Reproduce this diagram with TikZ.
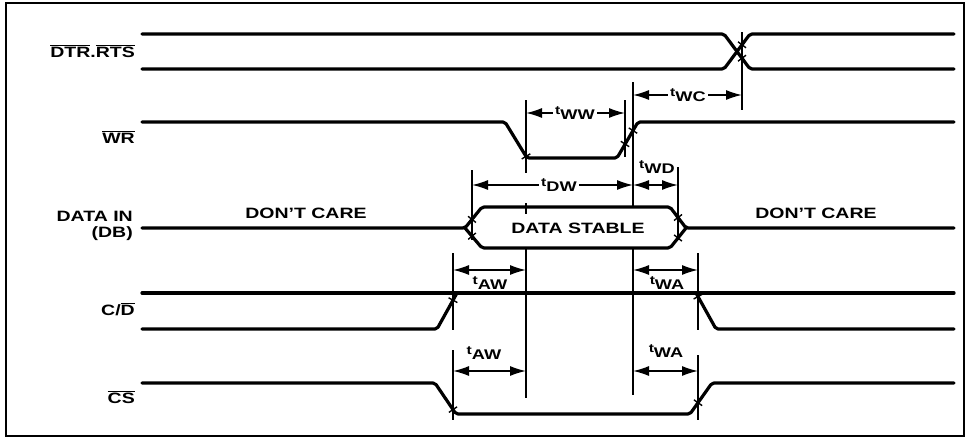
\documentclass[tikz,border=0pt]{standalone}
\usepackage{fontspec}
\setmainfont[FakeStretch=1.3]{Liberation Sans}
\usetikzlibrary{arrows.meta}
\newcommand\ovl[1]{$\overline{\mbox{#1}}$}
\newcommand\tlab[1]{\raisebox{0.45ex}{\fontsize{12}{12}\selectfont t}\raisebox{-0.3ex}{#1}}
\begin{document}
\begin{tikzpicture}[x=1pt,y=-1pt,
  sig/.style={line width=3.2pt, line join=round, line cap=round, rounded corners=2pt},
  dim/.style={line width=1.4pt},
  arr/.style={line width=1.4pt, {Latex[length=16pt,width=10pt]}-{Latex[length=16pt,width=10pt]}},
  lab/.style={font=\fontsize{15}{16}\selectfont\bfseries, inner sep=0pt},
  tl/.style={font=\fontsize{14}{14}\selectfont\bfseries, inner sep=1.5pt},
  tlf/.style={tl, fill=white, inner xsep=2pt}]
\useasboundingbox (0,0) rectangle (967,439);
\draw[line width=1.8pt] (6,3) rectangle (964,436);

% signal names
\node[lab, anchor=east] (nDTR) at (135,51) {\ovl{DTR}.\ovl{RTS}};
\node[lab, anchor=east] (nWR) at (135,137) {\ovl{WR}};
\node[lab, anchor=east, align=right] (nDATA) at (133,226) {DATA IN\\(DB)};
\node[lab, anchor=east] (nCD) at (135,309) {C/\ovl{D}};
\node[lab, anchor=east] (nCS) at (135,397) {\ovl{CS}};

% DTR, RTS
\draw[sig] (142,34) -- (724,34) -- (750,69) -- (954,69);
\draw[sig] (142,69) -- (724,69) -- (750,34) -- (954,34);
% WR
\draw[sig] (142,122) -- (505,122) -- (527,158) -- (617,158) -- (638,122) -- (954,122);
% DATA IN
\draw[sig] (142,228) -- (465,228) -- (482,207) -- (670,207) -- (686,228) -- (954,228);
\draw[sig] (465,228) -- (482,248) -- (670,248) -- (686,228);
\node[lab] (dc1) at (306,213) {DON'T CARE};
\node[lab] (dc2) at (816,213) {DON'T CARE};
\node[lab] (ds) at (578,228) {DATA STABLE};
% C/D
\draw[sig] (142,293) -- (954,293);
\draw[sig] (142,329) -- (437,329) -- (457,293);
\draw[sig] (696,293) -- (716,329) -- (954,329);
% CS
\draw[sig] (142,383) -- (435,383) -- (456,414) -- (690,414) -- (712,383) -- (954,383);

% reference lines
\draw[dim] (742,32) -- (742,110);
\draw[dim] (526,100) -- (526,173);
\draw[dim] (526,203) -- (526,214);
\draw[dim] (526,247) -- (526,398);
\draw[dim] (625,100) -- (625,157);
\draw[dim] (633,82) -- (633,207);
\draw[dim] (633,247) -- (633,395);
\draw[dim] (472,170) -- (472,240);
\draw[dim] (678,167) -- (678,240);
\draw[dim] (453,253) -- (453,330);
\draw[dim] (453,350) -- (453,420);
\draw[dim] (698,253) -- (698,330);
\draw[dim] (698,355) -- (698,420);

% crossing ticks
\draw[dim] (742,58.2) +(-4,3) -- +(4,-3);
\draw[dim] (742,44.8) +(4,3) -- +(-4,-3);
\draw[dim] (526,156.4) +(-4.3,2.6) -- +(4.3,-2.6);
\draw[dim] (625,144) +(4.2,2.7) -- +(-4.2,-2.7);
\draw[dim] (633,130.6) +(4.2,2.7) -- +(-4.2,-2.7);
\draw[dim] (472,219.4) +(3.9,3.1) -- +(-3.9,-3.1);
\draw[dim] (472,236.2) +(-3.8,3.2) -- +(3.8,-3.2);
\draw[dim] (678,217.5) +(-4,3) -- +(4,-3);
\draw[dim] (678,238) +(3.9,3.1) -- +(-3.9,-3.1);
\draw[dim] (453,300.2) +(4.4,2.4) -- +(-4.4,-2.4);
\draw[dim] (698,296.6) +(-4.4,2.4) -- +(4.4,-2.4);
\draw[dim] (453,409.6) +(-4.1,2.8) -- +(4.1,-2.8);
\draw[dim] (698,402.7) +(4.1,2.9) -- +(-4.1,-2.9);

% timing arrows
\draw[arr] (633,95) -- (742,95);
\node[tlf] (twc) at (688,95) {\tlab{WC}};
\draw[arr] (526,113) -- (625,113);
\node[tlf] (tww) at (575,113) {\tlab{WW}};
\draw[arr] (472,185) -- (633,185);
\node[tlf] (tdw) at (559,185) {\tlab{DW}};
\draw[arr] (633,185) -- (678,185);
\node[tl] (twd) at (657,167) {\tlab{WD}};
\draw[arr] (453,270) -- (526,270);
\node[tl] (taw1) at (490,283) {\tlab{AW}};
\draw[arr] (633,270) -- (698,270);
\node[tl] (twa1) at (667,283) {\tlab{WA}};
\draw[arr] (453,371) -- (526,371);
\node[tl] (taw2) at (484,353) {\tlab{AW}};
\draw[arr] (633,371) -- (698,371);
\node[tl] (twa2) at (666,351) {\tlab{WA}};
\end{tikzpicture}
\end{document}
